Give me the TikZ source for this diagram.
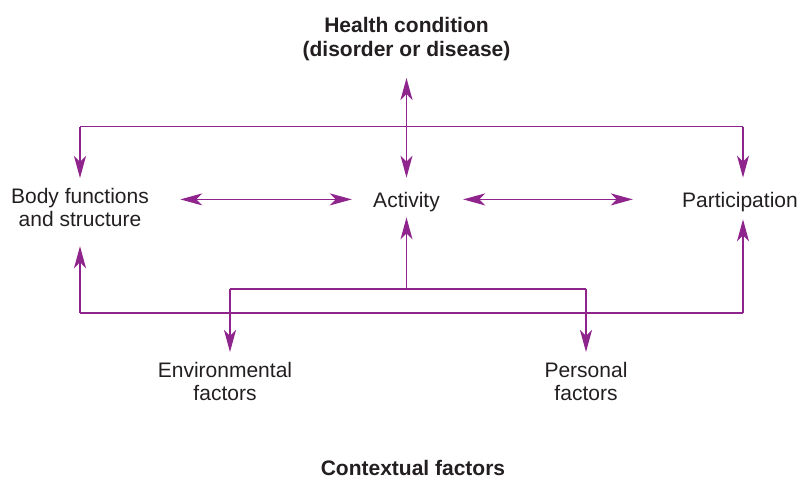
\documentclass[tikz,border=0pt]{standalone}
\usepackage{fontspec}
\setmainfont{Liberation Sans}
\usetikzlibrary{arrows.meta}
\definecolor{icfPurple}{RGB}{142,36,140}
\definecolor{icfText}{RGB}{35,31,32}

\begin{document}
\begin{tikzpicture}
[x=0.5pt,y=-0.5pt,
  lineDecorate/.style={draw=icfPurple,line width=0.8pt},
  tipDecorate/.style={lineDecorate,-{Stealth[length=11pt,width=6pt,inset=3pt]}},
  bothDecorate/.style={lineDecorate,{Stealth[length=11pt,width=6pt,inset=3pt]}-{Stealth[length=11pt,width=6pt,inset=3pt]}},
  textDecorate/.style={inner sep=0pt,text=icfText,align=center,font=\fontsize{10.5}{11.5}\selectfont},
  singleDecorate/.style={textDecorate,text depth=0pt},
  titleDecorate/.style={textDecorate,font=\fontsize{10.5}{12}\selectfont\bfseries}]
\useasboundingbox (0,0) rectangle (799,478);
%% text nodes
\node (health) at (406.5,17) [titleDecorate,anchor=north] {Health condition\\(disorder or disease)};
\node (body) at (80,188) [textDecorate,anchor=north] {Body functions\\and structure};
\node (activity) at (406.5,207) [singleDecorate,anchor=base] {Activity};
\node (particip) at (740,207) [singleDecorate,anchor=base] {Participation};
\node (env) at (225,362) [textDecorate,anchor=north] {Environmental\\factors};
\node (pers) at (586,362) [textDecorate,anchor=north] {Personal\\factors};
\node (context) at (413,475) [titleDecorate,anchor=base] {Contextual factors};
%% corners of the rails
\foreach \name/\x/\y in {
  topL/80/126.5, topR/743/126.5,
  botL/80/313, botR/743/313,
  midL/230/289, midC/406.5/289, midR/586/289}
{
  \coordinate (\name) at (\x,\y);
}
%% rails
\draw[lineDecorate] (topL) -- (topR);
\draw[lineDecorate] (botL) -- (botR);
\draw[lineDecorate] (midL) -- (midR);
%% arrows
\draw[bothDecorate,shorten <=8.3pt,shorten >=6.9pt] (health) -- (activity);
\draw[tipDecorate,shorten >=5pt] (topL) -- (body);
\draw[tipDecorate,shorten >=6.9pt] (topR) -- (topR |- particip.north);
\draw[tipDecorate,shorten >=9.5pt] (botL) -- (body);
\draw[tipDecorate,shorten >=6pt] (botR) -- (botR |- particip.south);
\draw[tipDecorate,shorten >=5pt] (midC) -- (activity);
\draw[tipDecorate,shorten >=5pt] (midL) -- (midL |- env.north);
\draw[tipDecorate,shorten >=5pt] (midR) -- (pers);
\draw[bothDecorate,shorten <=15.5pt,shorten >=10.5pt] (body.east |- activity.west) -- (activity.west);
\draw[bothDecorate,shorten <=11.5pt,shorten >=24.5pt] (activity.east) -- (particip.west);
\end{tikzpicture}
\end{document}
